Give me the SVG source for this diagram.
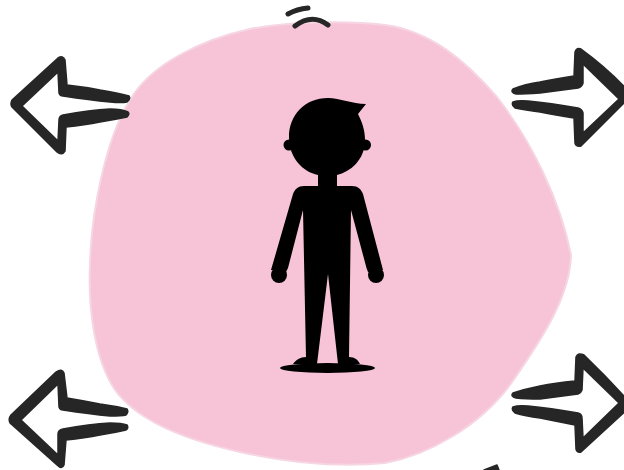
<svg xmlns="http://www.w3.org/2000/svg" width="624" height="470" viewBox="0 0 624 470">
<style>
.ink{fill:#262626;stroke:#262626;stroke-width:1.5;stroke-linejoin:round}
.stroke{fill:none;stroke:#262626;stroke-width:5;stroke-linecap:round}
.fig{fill:#000}
</style>
<rect width="624" height="470" fill="#fff"/>
<g id="blob">
<path d="M130 100C150 65 200 40 250 29C285 22 345 20 385 25C430 31 465 60 497 97C532 142 560 200 571 255C570 295 545 335 510 385C480 425 430 455 385 463C335 468 285 462 240 452C195 442 140 425 115 390C95 360 88 310 90 265C91 215 105 140 130 100Z" fill="#f7c3d7" stroke="#f6d6e3" stroke-width="2"/>
</g>
<g id="figure">
<path class="fig" d="M289 137C289 115 305 98 328 98C340 98 352 104 366 104L358 114C362 122 365 130 365 140C365 160 350 172 337 175V186H352C358 186 361 189 363 194L383 270L368 272L366.500 268L351 210L349 357C355 357 358 360 360 364H338L328 274L317 364H293C296 360 300 357 306 357L303 210L288 268L286 272L271 270L293 194C295 189 298 186 304 186H318V175C303 172 289 158 289 137Z"/>
<circle class="fig" cx="279" cy="275" r="8"/>
<circle class="fig" cx="376" cy="275" r="8"/>
<circle class="fig" cx="289" cy="145" r="5.500"/>
<circle class="fig" cx="365.500" cy="145" r="5.500"/>
<ellipse class="fig" cx="327.500" cy="368" rx="47.500" ry="5"/>
</g>
<g id="connectors">
<path id="mark-top-1" class="stroke" d="M288 14Q297 9 308 8"/>
<path id="mark-top-2" class="stroke" d="M295 26Q312 13 328 25"/>
<path id="arrow-top-left" class="ink" d="M129 96Q118 93 100 90Q85 87 67 85L65 60Q63 55 58 58L12 100Q10 104 12 107L57 152Q62 156 65 151L66 127Q85 125 100 122Q118 119 127 117Q130 114 128 112Q122 109 110 109Q90 110 63 115Q59 116 59 120L58 141L22 106L58 72L59 93Q60 96 63 96Q90 100 110 102Q122 103 127 102Q131 99 129 96Z"/>
<path id="arrow-top-right" class="ink" d="M513 89Q525 84 540 82Q555 79 574 76L575 52Q577 47 581 49Q610 70 632 95L581 146Q576 147 575 143L574 118Q555 115 540 112Q525 110 515 108Q511 105 513 102Q518 100 528 101Q550 103 578 108Q582 109 583 113L583 133L619 99L583 64L583 83Q582 87 578 88Q555 91 540 93Q525 94 516 94Q510 92 513 89Z"/>
<path id="arrow-bottom-left" class="ink" d="M127 409Q115 406 100 404Q85 401 67 398L64 373Q62 368 56 372L11 415Q8 419 10 423L57 465Q62 470 64 465L66 440Q85 438 100 435Q118 432 126 430Q129 428 127 425Q122 423 110 423Q90 424 63 429Q58 430 58 434L58 455L21 420L58 384L59 407Q60 410 63 410Q90 414 110 416Q122 416 126 415Q129 412 127 409Z"/>
<path id="arrow-bottom-right" class="ink" d="M513 393Q525 389 540 386Q555 383 575 381L576 357Q578 352 584 355Q610 380 632 405L581 452Q577 453 576 449L575 425Q555 421 540 418Q525 416 515 413Q511 410 513 407Q518 405 528 406Q550 408 578 413Q582 414 582 418L583 438L619 403L583 368L582 390Q581 393 578 394Q555 397 540 399Q525 399 516 398Q510 396 513 393Z"/>
<path id="arrow-fragment" class="ink" d="M484 470L497 465L499 470Z"/>
</g>
</svg>
